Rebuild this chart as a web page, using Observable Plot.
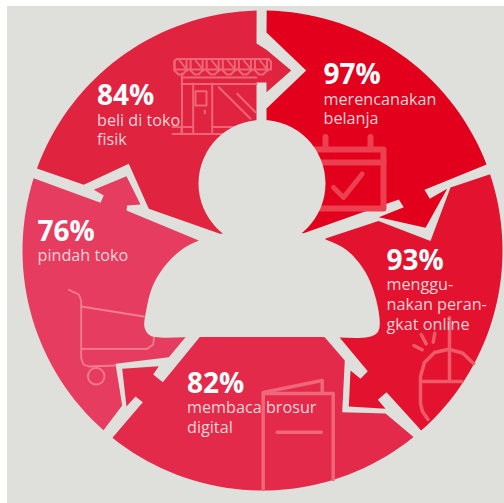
<!DOCTYPE html>
<html>
<head>
<meta charset="utf-8">
<style>html,body{margin:0;padding:0;background:#fff}svg{display:block}</style>
<script src="https://cdn.jsdelivr.net/npm/d3@7"></script>
<script src="https://cdn.jsdelivr.net/npm/@observablehq/plot@0.6"></script>
</head>
<body>
<script>
// Five stages of the shopper journey, clockwise from the top.
const percents = [97, 93, 82, 76, 84];
const captions = [
  ["merencanakan", "belanja"],
  ["menggu-", "nakan peran-", "gkat online"],
  ["membaca brosur", "digital"],
  ["pindah toko"],
  ["beli di toko", "fisik"]
];
const shades = ["#e2001c", "#e3122f", "#e42a4a", "#e63c5f", "#e0233f"];
const paper = "#dfe0dc";

// Text anchors: x, first baseline, then the caption baselines.
const anchors = [
  [323, 83, [104, 123]],
  [386, 269, [289.5, 309.5, 329]],
  [186.5, 392, [412.5, 432]],
  [37, 240.5, [260]],
  [96.5, 104, [125, 144.5]]
];

const cx = 262, cy = 250, radius = 240;

// Points along the rim between two angles (degrees clockwise from twelve o'clock).
function rim(from, to) {
  const out = [];
  const steps = Math.ceil(Math.abs(to - from) / 2);
  for (let i = 0; i <= steps; i++) {
    const a = (from + (to - from) * i / steps) * Math.PI / 180;
    out.push([cx + radius * Math.sin(a), cy - radius * Math.cos(a)]);
  }
  return out;
}

// Segment outlines, each an inner path plus a stretch of rim.
const outlines = [
  [...rim(1, 69), [424, 189.3], [429.3, 198.3], [446.7, 188.3], [425, 227.3], [378.3, 216.7],
    [403.3, 206.7], [398.3, 199], [296.7, 235], [266, 235], [266, 108], [305.7, 70], [266, 32]],
  [...rim(71.5, 138.6), [386, 391.7], [377.3, 399.3], [385, 408.3], [348.3, 406], [350, 370],
    [360, 378.3], [367.3, 370.7], [338.3, 336], [320, 290], [325, 238], [378, 220.5], [430, 240.5], [450, 187]],
  [...rim(141, 218.7), [142.3, 401.7], [135, 396], [126, 406], [121.7, 368.3], [158.3, 365.7],
    [152.7, 374], [162.3, 381.7], [199.3, 336.5], [324, 336.5], [344.3, 360], [341.7, 411.7], [385, 413]],
  [...rim(221.5, 287.5), [100, 202.3], [103.3, 195], [93.3, 189.3], [126, 175.7], [140, 204], [126.7, 205],
    [126, 210], [198.3, 240], [200, 300], [185, 336.7], [168.3, 356.7], [115, 363.3], [121.7, 405]],
  [...rim(290, 358.6), [256, 43], [266, 49.3], [290.7, 70], [266, 91.7], [266, 82], [256, 82],
    [256, 236], [227.3, 236], [148.3, 208.3], [128.3, 163.3], [83.3, 184.3]]
];

const shoulders = [
  [198.3, 240], [180, 250], [163.3, 266.7], [151.7, 286.7], [145.7, 310], [144, 326.7], [148.3, 334], [155, 336.6],
  [200, 336.6], [260, 336.6], [320, 336.6], [368, 336.6], [377, 332], [379.3, 323.3], [375, 296.7], [365, 271.7], [346.7, 250], [325, 239],
  [296, 232], [228, 232]
];
const head = [{x: 261.5, y: 183}];

// Line icons sitting behind the text.
const awning = [[176, 58.5], [268, 58.5], [270.5, 61], [270.5, 69], [174, 69], [174, 61], [176, 58.5]];
const storeLines = [
  awning,
  [[181.5, 73], [181.5, 133.5]], [[172, 133.5], [240, 133.5]], [[181, 77], [256, 77]], [[181, 83.5], [256, 83.5]],
  [[192.7, 83], [192.7, 133]], [[211.7, 83], [211.7, 133]],
  [[195, 90.7], [206, 90.7], [206, 105], [195, 105], [195, 90.7]],
  [[204.3, 110], [204.3, 113]],
  [[218.3, 86.7], [250, 118.3]], [[236.7, 93.3], [255, 111.7]],
  [[211.7, 126.5], [240, 126.5]], [[172, 126.5], [192, 126.5]], [[181, 126.5], [181, 133]]
];
for (let i = 0; i <= 5; i++) {
  const left = 174 + i * 16.1;
  storeLines.push([[left, 60], [left, 70], [left + 4, 74], [left + 8, 74], [left + 12, 70], [left + 12, 60]]);
  storeLines.push([[left + 5, 60], [left + 13, 70]]);
}
const calendarLines = [
  [[310, 149], [383, 149], [383, 208], [310, 208]],
  [[310, 162], [383, 162]],
  [[325, 136.5], [325, 147]], [[370, 136.5], [370, 147]]
];
const calendarTick = [[333, 187], [343, 197], [361.7, 173.5]];
const mouseLines = [
  [[449, 317], [449, 378.5]],
  [[421, 381], [461.5, 381]],
  [[427.5, 419], [422, 411], [420, 403], [420, 376], [424, 362], [434, 352], [448.3, 348.7], [462, 352.5], [473, 363]],
  [[413.3, 345], [421.7, 349.3]], [[420.7, 334], [425.7, 343.3]], [[434.3, 332.7], [432.7, 341.7]]
];
const cartLines = [
  [[68.3, 289.3], [78.3, 294], [80.7, 300], [80.7, 358], [83, 364], [88.3, 366], [115, 365]],
  [[80.7, 306], [143.3, 316]],
  [[81, 348.3], [146.7, 348.3], [152.7, 344], [153.5, 336.7]]
];
const cartWheel = [{x: 95.7, y: 375.7}];
const brochureLines = [
  [[262.7, 489], [262.7, 393], [332.7, 393], [332.7, 479]],
  [[262.7, 392], [321.7, 380], [321.7, 392.7]],
  [[276.7, 431.7], [320.7, 431.7]]
];

const polygon = (points, fill, curve = "linear") =>
  Plot.line(points, {x: d => d[0], y: d => d[1], fill, stroke: "none", curve});
const strokes = (paths, stroke, strokeWidth, curve = "linear") =>
  paths.map(points => Plot.line(points, {x: d => d[0], y: d => d[1], stroke, strokeWidth, curve, strokeLinejoin: "round"}));

const headlines = percents.map((p, i) => ({x: anchors[i][0], y: anchors[i][1], text: `${p}%`}));
const captionLines = captions.flatMap((lines, i) =>
  lines.map((text, j) => ({x: anchors[i][0], y: anchors[i][2][j], text})));

const chart = Plot.plot({
  width: 504,
  height: 503,
  margin: 0,
  style: {background: "#fff"},
  x: {domain: [0, 504], range: [0, 504], axis: null},
  y: {domain: [0, 503], range: [0, 503], axis: null},
  marks: [
    Plot.rect([{}], {x1: () => 7, x2: () => 504, y1: () => 6, y2: () => 503, fill: paper}),
    ...outlines.map((o, i) => polygon(o, shades[i])),
    ...strokes(storeLines, "#ee6678", 2),
    ...strokes(calendarLines, "#ec3f50", 6),
    ...strokes([calendarTick], "#ec3f50", 5),
    ...strokes(mouseLines, "#ef5a68", 3.5),
    ...strokes(cartLines, "#f47d90", 1.8),
    Plot.dot(cartWheel, {x: "x", y: "y", r: 8.3, stroke: "#f47d90", strokeWidth: 1.8}),
    ...strokes(brochureLines, "#f0667a", 3.5),
    polygon(shoulders, paper, "catmull-rom-closed"),
    Plot.dot(head, {x: "x", y: "y", r: 63.5, fill: paper, stroke: "none"}),
    Plot.text(headlines, {x: "x", y: "y", text: "text", textAnchor: "start", lineAnchor: "bottom",
      fontFamily: "Open Sans", fontWeight: 700, fontSize: 28, fill: "#fff"}),
    Plot.text(captionLines, {x: "x", y: "y", text: "text", textAnchor: "start", lineAnchor: "bottom",
      fontFamily: "Open Sans", fontSize: 16.2, fill: "#fbd3d8"})
  ]
});
document.body.append(chart);
</script>
</body>
</html>
